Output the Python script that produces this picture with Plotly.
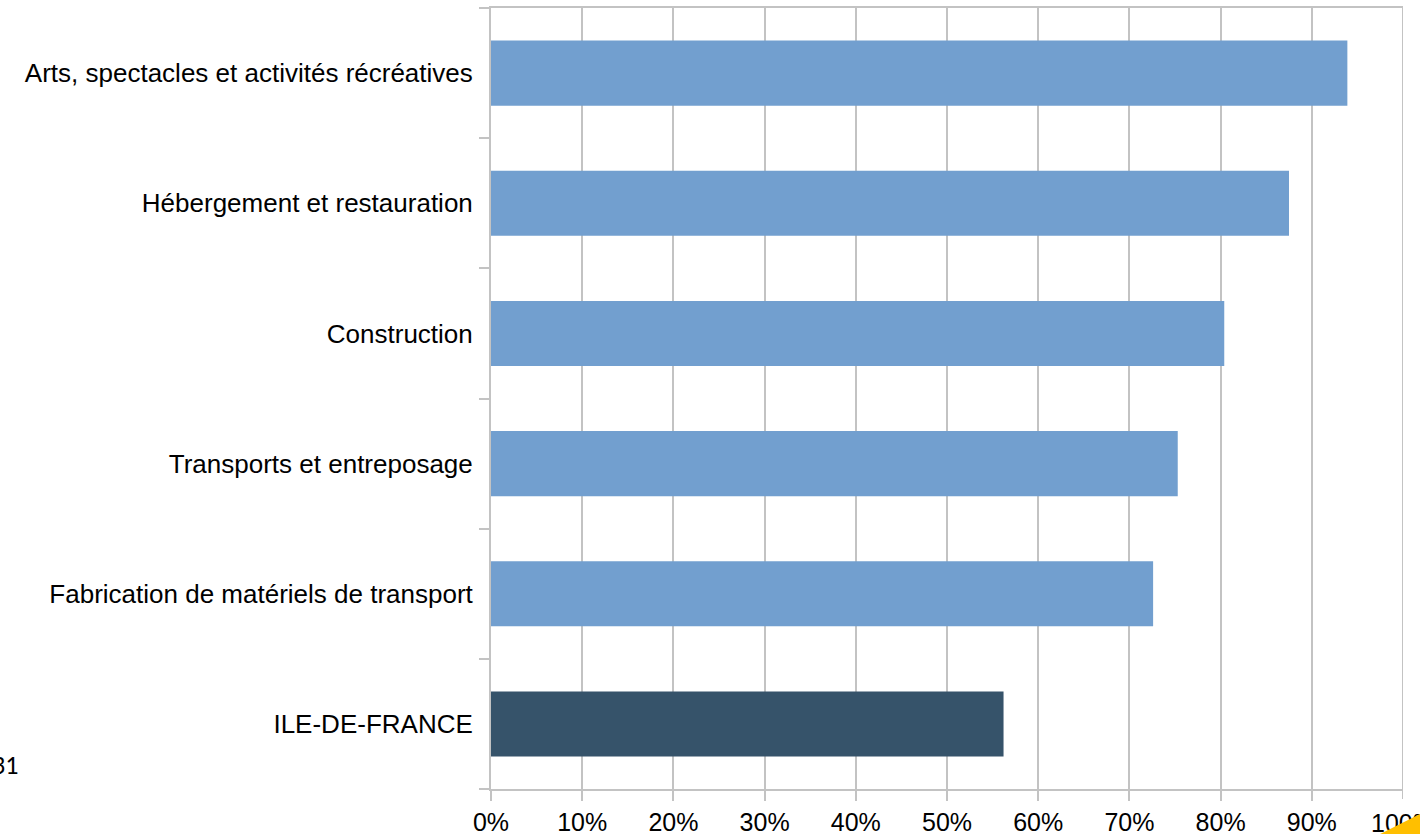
import plotly.graph_objects as go

categories = [
    "ILE-DE-FRANCE",
    "Fabrication de matériels de transport",
    "Transports et entreposage",
    "Construction",
    "Hébergement et restauration",
    "Arts, spectacles et activités récréatives",
]
values = [0.562, 0.726, 0.753, 0.804, 0.875, 0.939]
bar_colors = ["#36536a", "#729fcf", "#729fcf", "#729fcf", "#729fcf", "#729fcf"]

tick_values = [i / 10 for i in range(10)]
tick_labels = [f"{i * 10}%" for i in range(10)]
last_tick_label = "100%"

grid_color = "#c3c3c3"
family = "Liberation Sans, Arial, sans-serif"

fig = go.Figure(
    go.Bar(
        x=values,
        y=categories,
        orientation="h",
        marker=dict(color=bar_colors, line=dict(width=0)),
        hoverinfo="x+y",
    )
)

fig.update_layout(
    width=1420,
    height=834,
    margin=dict(l=491, r=17, t=8, b=45, autoexpand=False),
    paper_bgcolor="white",
    plot_bgcolor="white",
    bargap=0.5,
    showlegend=False,
    font=dict(family=family, size=24, color="black"),
)

fig.update_xaxes(
    range=[0, 1],
    tickvals=tick_values,
    ticktext=tick_labels,
    showgrid=True,
    gridcolor=grid_color,
    gridwidth=2,
    showline=True,
    linecolor=grid_color,
    linewidth=2,
    mirror=True,
    ticks="outside",
    ticklen=10,
    tickwidth=2,
    tickcolor=grid_color,
    zeroline=False,
    automargin=False,
    tickfont=dict(family=family, size=25, color="black"),
)

fig.update_yaxes(
    type="category",
    showgrid=False,
    showline=True,
    linecolor=grid_color,
    linewidth=2,
    ticks="outside",
    tickson="boundaries",
    ticklen=10,
    tickwidth=2,
    tickcolor=grid_color,
    automargin=False,
    ticklabelstandoff=11,
    tickfont=dict(family=family, size=26, color="black"),
)

# the 100% tick sits at the right edge: plotly drops that label, so write it by hand
fig.add_vline(x=1, line=dict(color=grid_color, width=2))
fig.add_shape(
    type="line", xref="x", yref="paper", x0=1, x1=1, y0=0, y1=-0.0128,
    line=dict(color=grid_color, width=2),
)
fig.add_annotation(
    text=last_tick_label, xref="x", yref="paper", x=1, y=-0.0435,
    xanchor="center", yanchor="middle", showarrow=False,
    font=dict(family=family, size=25, color="black"),
)

# stray page number at the left edge
fig.add_annotation(
    text="31", xref="paper", yref="paper",
    x=-0.5164, y=0.0307, xanchor="right", yanchor="middle",
    showarrow=False, font=dict(family="Carlito, Liberation Sans, sans-serif", size=26, color="black"),
)

# yellow corner decoration, bottom right; an annotation so it sits over the 100% label
fig.add_annotation(
    text=" ", xref="paper", yref="paper",
    x=1.0125, y=-0.0798, xanchor="center", yanchor="middle",
    width=120, height=60, borderpad=0, bgcolor="#ffbf00",
    textangle=-26.6, showarrow=False,
)

fig.write_html(
    "out.html",
    config={"displayModeBar": False},
    post_script="document.body.style.margin='0';document.body.style.overflow='hidden';",
)
